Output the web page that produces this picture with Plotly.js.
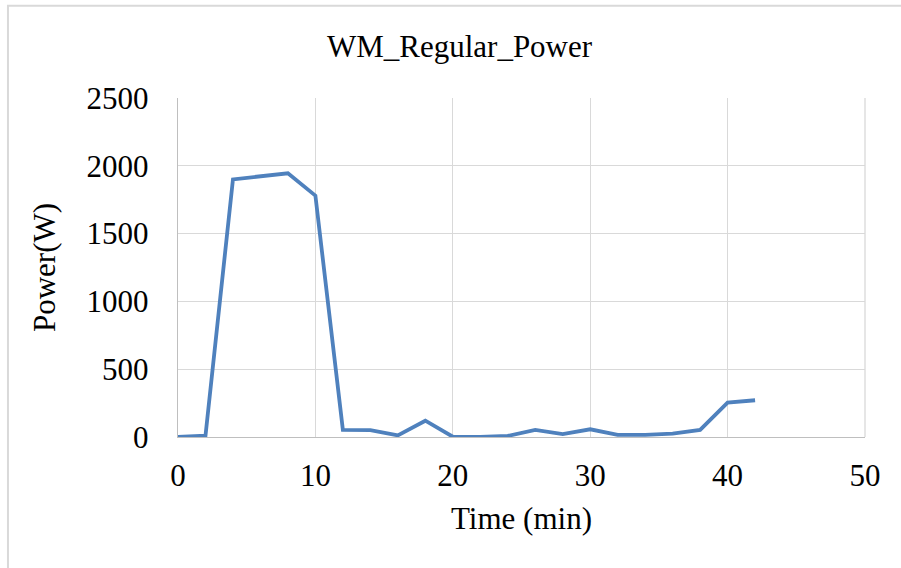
<!DOCTYPE html>
<html>
<head>
<meta charset="utf-8">
<script src="https://cdn.plot.ly/plotly-3.0.1.min.js"></script>
<style>html,body{margin:0;padding:0;background:#fff;}#chart{width:901px;height:568px;}</style>
</head>
<body>
<div id="chart"></div>
<script>
const timeMin = [0, 2, 4, 6, 8, 10, 12, 14, 16, 18, 20, 22, 24, 26, 28, 30, 32, 34, 36, 38, 40, 42];
const powerW = [0, 10, 1900, 1925, 1945, 1780, 52, 50, 12, 120, 2, 1, 8, 52, 22, 57, 15, 15, 25, 52, 254, 271];
const xTicks = [0, 10, 20, 30, 40, 50];
const yTicks = [0, 500, 1000, 1500, 2000, 2500];
const chartTitle = 'WM_Regular_Power';
const xTitle = 'Time (min)';
const yTitle = 'Power(W)';

const serif = 'Liberation Serif';

Plotly.newPlot('chart', [{
  x: timeMin,
  y: powerW,
  type: 'scatter',
  mode: 'lines',
  line: {color: '#4F81BD', width: 3.8},
  hoverinfo: 'skip'
}], {
  width: 901,
  height: 568,
  margin: {l: 178, r: 36, t: 98, b: 131},
  paper_bgcolor: '#ffffff',
  plot_bgcolor: '#ffffff',
  showlegend: false,
  title: {
    text: chartTitle,
    font: {family: serif, size: 31, color: '#000'},
    x: 0.51, xanchor: 'center',
    y: 0.918, yanchor: 'middle'
  },
  xaxis: {
    range: [0, 50],
    tickvals: xTicks,
    ticktext: xTicks.map(String),
    showgrid: true,
    gridcolor: '#d9d9d9',
    gridwidth: 1.3,
    showline: true,
    linecolor: '#bfbfbf',
    linewidth: 1.3,
    zeroline: false,
    ticks: '',
    ticklabelstandoff: 10,
    tickfont: {family: serif, size: 31, color: '#000'},
    title: {text: xTitle, font: {family: serif, size: 31, color: '#000'}, standoff: 15}
  },
  yaxis: {
    range: [0, 2500],
    tickvals: yTicks,
    ticktext: yTicks.map(String),
    showgrid: true,
    gridcolor: '#d9d9d9',
    gridwidth: 1.3,
    showline: true,
    linecolor: '#bfbfbf',
    linewidth: 1.3,
    zeroline: false,
    ticks: '',
    ticklabelstandoff: 22,
    tickfont: {family: serif, size: 31, color: '#000'},
    title: {text: yTitle, font: {family: serif, size: 31, color: '#000'}, standoff: 21}
  },
  shapes: [
    {type: 'rect', xref: 'paper', yref: 'paper', x0: -0.2475, x1: 1.06, y0: -0.45, y1: 1.272,
     line: {color: '#d9d9d9', width: 2}, fillcolor: 'rgba(0,0,0,0)', layer: 'below'},
    {type: 'line', xref: 'paper', yref: 'paper', x0: 1, x1: 1, y0: 0, y1: 1,
     line: {color: '#d9d9d9', width: 1.3}}
  ]
}, {displayModeBar: false, staticPlot: true});
</script>
</body>
</html>
